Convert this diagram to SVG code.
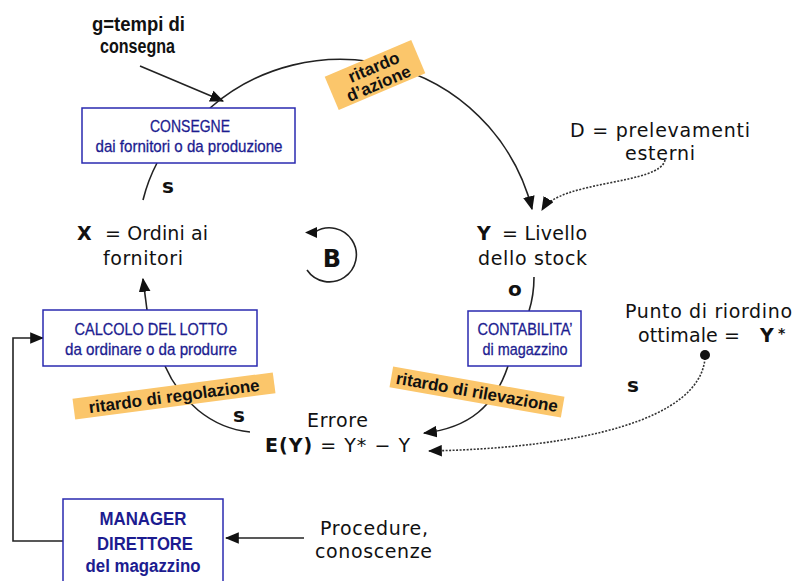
<svg xmlns="http://www.w3.org/2000/svg" width="795" height="581" viewBox="0 0 795 581">
<style>
.box{fill:#fff;stroke:#2a2ab0;stroke-width:1.5}
.bt{font-family:"Liberation Sans",Arial,sans-serif;font-size:17px;fill:#1c1c90;text-anchor:middle;stroke:#1c1c90;stroke-width:0.3}
.bm{font-family:"Liberation Sans",Arial,sans-serif;font-size:18px;font-weight:bold;fill:#1c1c90;text-anchor:middle}
.t{font-family:"DejaVu Sans",Verdana,sans-serif;font-size:19px;fill:#111}
.tb{font-family:"DejaVu Sans",Verdana,sans-serif;font-size:19px;font-weight:bold;fill:#111}
.sg{font-family:"DejaVu Sans",Verdana,sans-serif;font-size:20px;font-weight:bold;fill:#111}
.lab{fill:#fbc66b}
.lt{font-family:"Liberation Sans",Arial,sans-serif;font-size:17px;font-weight:bold;fill:#111;text-anchor:middle}
.g{font-family:"Liberation Sans",Arial,sans-serif;font-size:20px;font-weight:bold;fill:#111}
.ln{fill:none;stroke:#222;stroke-width:1.6}
.dt{fill:none;stroke:#333;stroke-width:1.6;stroke-dasharray:2 1.5}
</style>
<defs>
<marker id="ah" markerUnits="userSpaceOnUse" markerWidth="14" markerHeight="12" refX="11" refY="5" orient="auto-start-reverse" viewBox="0 0 12 10">
<path d="M0,0 L12,5 L0,10 Z" fill="#111"/>
</marker>
</defs>

<g id="connectors">
<path class="ln" d="M140,66 L223,101" marker-end="url(#ah)"/>
<path class="ln" d="M210,108 A198,198 0 0 1 532,209" marker-end="url(#ah)"/>
<path class="dt" d="M665,160 C660,185 560,180 542,210" marker-end="url(#ah)"/>
<path class="ln" d="M157,163 Q148,180 143,200"/>
<path class="ln" d="M147,310 L143,279" marker-end="url(#ah)"/>
<path class="ln" d="M165,366 C180,400 210,428 250,432"/>
<path class="ln" d="M534,277 Q534,295 529,311"/>
<path class="ln" d="M508,366 C495,405 470,428 424,433" marker-end="url(#ah)"/>
<path class="dt" d="M705,358 C700,420 580,448 429,451" marker-end="url(#ah)"/>
<path class="ln" d="M63,541 H13 V338 H43" marker-end="url(#ah)"/>
<path class="ln" d="M304,538 H226" marker-end="url(#ah)"/>
</g>

<g id="loop-B">
<path class="ln" d="M315,232 A27,27 0 1 1 307,270"/>
<path d="M305,232.5 L317,227 L317,238 Z" fill="#111"/>
<text class="sg" x="332" y="267" text-anchor="middle" style="font-size:24px">B</text>
</g>

<g id="g-label">
<text class="g" x="92" y="31" textLength="93" lengthAdjust="spacingAndGlyphs">g=tempi di</text>
<text class="g" x="100" y="53" textLength="75" lengthAdjust="spacingAndGlyphs">consegna</text>
</g>

<g id="consegne">
<rect class="box" x="82" y="108" width="213" height="55"/>
<text class="bt" x="190" y="132" textLength="80" lengthAdjust="spacingAndGlyphs">CONSEGNE</text>
<text class="bt" x="189" y="152" textLength="187" lengthAdjust="spacingAndGlyphs">dai fornitori o da produzione</text>
</g>
<text class="sg" x="162" y="193">s</text>

<g id="ritardo-azione" transform="translate(375,75) rotate(-23)">
<rect class="lab" x="-47" y="-18" width="94" height="36"/>
<text class="lt" x="2" y="-2">ritardo</text>
<text class="lt" x="0" y="15">d’azione</text>
</g>

<g id="D">
<text class="t" x="570" y="137" textLength="180">D = prelevamenti</text>
<text class="t" x="625" y="160" textLength="70">esterni</text>
</g>

<g id="X">
<text class="tb" x="77" y="240">X</text>
<text class="t" x="105" y="240" textLength="103">= Ordini ai</text>
<text class="t" x="103" y="265" textLength="80">fornitori</text>
</g>

<g id="Y">
<text class="tb" x="477" y="240">Y</text>
<text class="t" x="502" y="240" textLength="85">= Livello</text>
<text class="t" x="478" y="265" textLength="109">dello stock</text>
</g>
<text class="sg" x="508" y="296">o</text>

<g id="calcolo">
<rect class="box" x="43" y="310" width="214" height="56"/>
<text class="bt" x="151" y="335" textLength="153" lengthAdjust="spacingAndGlyphs">CALCOLO DEL LOTTO</text>
<text class="bt" x="151" y="355" textLength="172" lengthAdjust="spacingAndGlyphs">da ordinare o da produrre</text>
</g>

<g id="contabilita">
<rect class="box" x="468" y="311" width="113" height="55"/>
<text class="bt" x="525" y="335" textLength="95" lengthAdjust="spacingAndGlyphs">CONTABILITA’</text>
<text class="bt" x="525" y="355" textLength="85" lengthAdjust="spacingAndGlyphs">di magazzino</text>
</g>

<g id="punto">
<text class="t" x="625" y="318" textLength="167">Punto di riordino</text>
<text class="t" x="638" y="342" textLength="102">ottimale =</text>
<text class="tb" x="760" y="342">Y</text>
<text class="tb" x="778" y="338" style="font-size:14px">*</text>
<circle cx="705" cy="355" r="5" fill="#111"/>
</g>
<text class="sg" x="627" y="392">s</text>

<g id="ritardo-regolazione" transform="translate(174,396) rotate(-7.5)">
<rect class="lab" x="-101" y="-10.5" width="202" height="21"/>
<text class="lt" x="0" y="6" textLength="172">ritardo di regolazione</text>
</g>

<g id="ritardo-rilevazione" transform="translate(477,392) rotate(10)">
<rect class="lab" x="-87" y="-10.5" width="174" height="21"/>
<text class="lt" x="0" y="6" textLength="164">ritardo di rilevazione</text>
</g>

<text class="sg" x="233" y="422">s</text>

<g id="errore">
<text class="t" x="307" y="427" textLength="61">Errore</text>
<text class="t" x="265" y="452" textLength="145"><tspan font-weight="bold">E(Y)</tspan> = Y* − Y</text>
</g>

<g id="manager">
<rect class="box" x="63" y="499" width="160" height="90"/>
<text class="bm" x="143" y="525" textLength="87" lengthAdjust="spacingAndGlyphs">MANAGER</text>
<text class="bm" x="145" y="550" textLength="96" lengthAdjust="spacingAndGlyphs">DIRETTORE</text>
<text class="bm" x="143" y="572" textLength="115" lengthAdjust="spacingAndGlyphs">del magazzino</text>
</g>

<g id="procedure">
<text class="t" x="320" y="535" textLength="108">Procedure,</text>
<text class="t" x="315" y="558" textLength="117">conoscenze</text>
</g>
</svg>
